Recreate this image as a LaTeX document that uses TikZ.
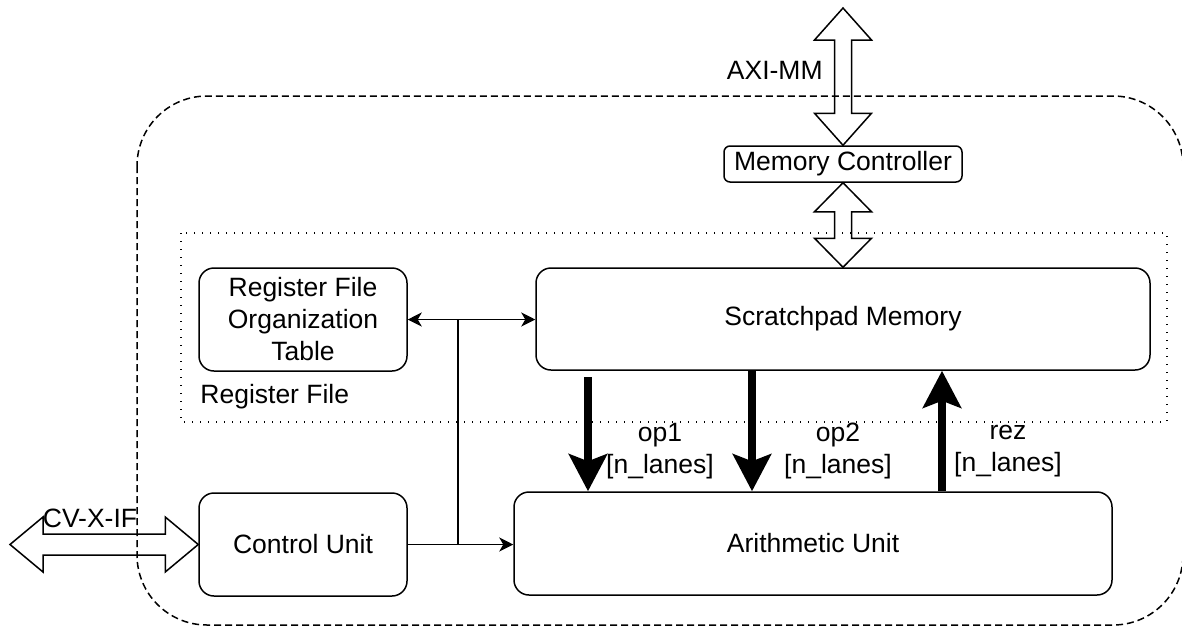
\documentclass[tikz,border=0pt]{standalone}
\usepackage{fontspec}
\setmainfont{Liberation Sans}
\usetikzlibrary{arrows.meta,calc}
\tikzset{
  box/.style={draw, line width=0.75pt, rounded corners=7.5pt, align=center, inner sep=0pt},
  lbl/.style={inner sep=0pt, align=center},
  thinarrow/.style={line width=0.75pt, -{Stealth[length=7pt,width=7pt,inset=2pt]}},
  thinline/.style={line width=0.75pt},
  thickarrow/.style={line width=4pt, -{Stealth[length=18.5pt,width=19pt,inset=3.5pt]}},
  blockarrow/.style={line width=0.75pt, line join=miter},
  outerbox/.style={line width=0.75pt, dash pattern=on 3.5pt off 2pt, rounded corners=35pt},
  groupbox/.style={line width=0.75pt, dash pattern=on 0.6pt off 3.4pt},
}
% vertical double block arrow between two coordinates (top, bottom), head length
\newcommand\vdblarrow[3]{%
  \draw[blockarrow] let \p1=(#1), \p2=(#2) in
    (\x1,\y1) -- (\x1+14.25pt,\y1-#3) -- (\x1+4.25pt,\y1-#3) -- (\x1+4.25pt,\y2+#3)
    -- (\x1+14.25pt,\y2+#3) -- (\x1,\y2) -- (\x1-14.25pt,\y2+#3) -- (\x1-4.25pt,\y2+#3)
    -- (\x1-4.25pt,\y1-#3) -- (\x1-14.25pt,\y1-#3) -- cycle;}
% horizontal double block arrow between two coordinates (left, right)
\newcommand\hdblarrow[3]{%
  \draw[blockarrow] let \p1=(#1), \p2=(#2) in
    (\x1,\y2) -- (\x1+#3,\y2+13.75pt) -- (\x1+#3,\y2+5.25pt) -- (\x2-#3,\y2+5.25pt)
    -- (\x2-#3,\y2+13.75pt) -- (\x2,\y2) -- (\x2-#3,\y2-13.75pt) -- (\x2-#3,\y2-5.25pt)
    -- (\x1+#3,\y2-5.25pt) -- (\x1+#3,\y2-13.75pt) -- cycle;}
\begin{document}
\begin{tikzpicture}[x=0.5pt,y=-0.5pt,font=\fontsize{13.25pt}{16pt}\selectfont]
\useasboundingbox (0,0) rectangle (1182,632);

% outer dashed boundary
\draw[outerbox] (137,96) rectangle (1183,625);
% register file group
\draw[groupbox] (181,233) rectangle (1167,422);
\node[lbl, anchor=west] (rflbl) at (200,397) {Register File};

% nodes
\node[box, minimum width=104pt, minimum height=51.5pt] (rfot) at (303,319.5)
  {Register File\\Organization\\Table};
\node[box, minimum width=307pt, minimum height=51pt] (scratch) at (843,319) {Scratchpad Memory};
\node[box, minimum width=104pt, minimum height=51.5pt] (ctrl) at (303,544.5) {Control Unit};
\node[box, minimum width=299pt, minimum height=51.5pt] (arith) at (813,543.5) {Arithmetic Unit};
\node[box, rounded corners=3pt, minimum width=119pt, minimum height=18pt] (memctl) at (843,164)
  {Memory Controller};

% block arrows
\coordinate (axitop) at (843,8);
\vdblarrow{axitop}{memctl.north}{16pt}
\node[lbl, anchor=east] (axilbl) at (823,70) {AXI-MM};
\vdblarrow{memctl.south}{scratch.north}{14.5pt}
\coordinate (cvleft) at (10,543);
\hdblarrow{cvleft}{ctrl.west}{16.5pt}
\node[lbl] (cvlbl) at (90,518) {CV-X-IF};

% control connections
\coordinate (j) at (458,544.5);
\draw[thinarrow] (ctrl.east) -- (ctrl.east -| arith.west);
\draw[thinline] (j) -- (j |- rfot.east);
\draw[thinline, {Stealth[length=7pt,width=7pt,inset=2pt]}-{Stealth[length=7pt,width=7pt,inset=2pt]}]
  (rfot.east) -- (rfot.east -| scratch.west);

% data paths
\coordinate (x1) at (588,377);
\coordinate (x2) at (752,0);
\coordinate (x3) at (942,0);
\draw[thickarrow] (x1) -- (x1 |- arith.north);
\draw[thickarrow] (scratch.south -| x2) -- (arith.north -| x2);
\draw[thickarrow] (arith.north -| x3) -- (scratch.south -| x3);
\node[lbl] (op1) at (660,451) {op1\\{[n\_lanes]}};
\node[lbl] (op2) at (838,451) {op2\\{[n\_lanes]}};
\node[lbl] (rez) at (1008,451) {rez\\{[n\_lanes]}};
\end{tikzpicture}
\end{document}
